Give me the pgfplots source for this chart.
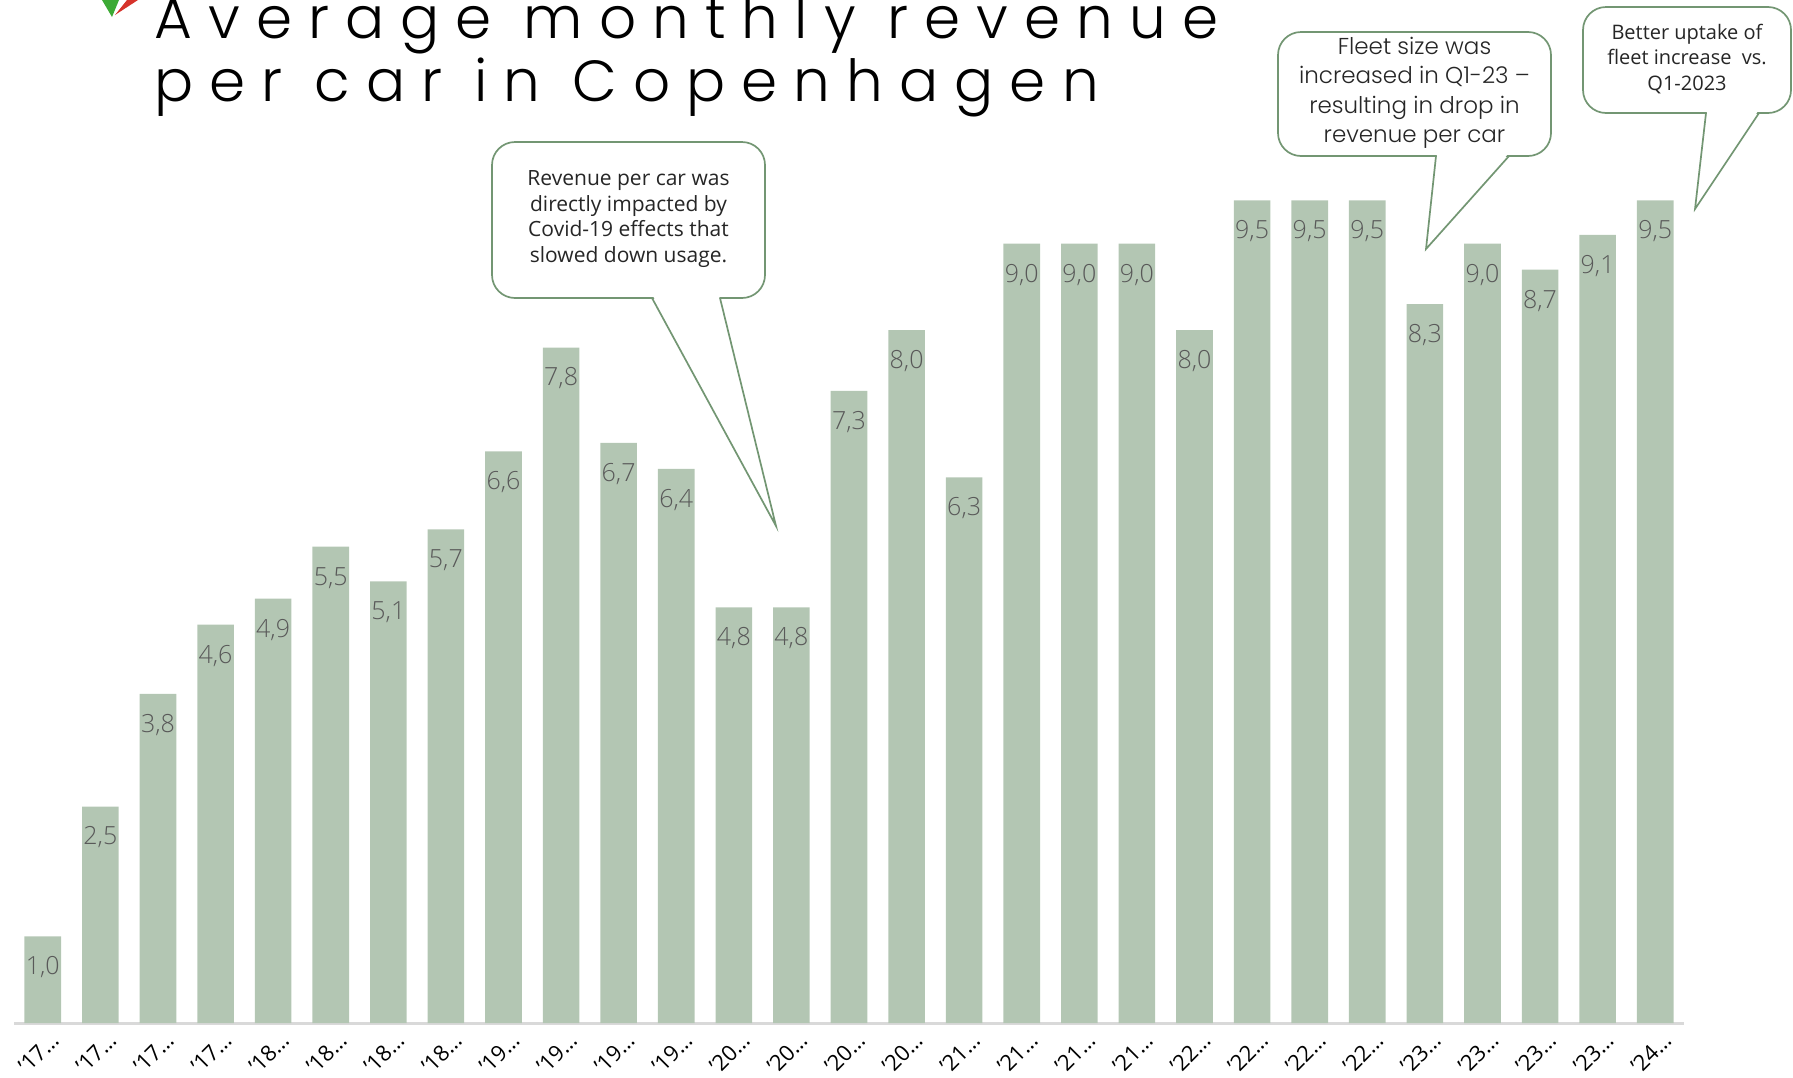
\documentclass[border=0pt]{standalone}
\usepackage{pgfplots}
\pgfplotsset{compat=1.18}
\usepackage{fontspec}
\setmainfont{Open Sans}
\IfFontExistsTF{Poppins Light}{%
  \newfontfamily\titlefont[LetterSpace=27.7]{Poppins Light}%
  \newfontfamily\calloutfontB{Poppins Light}%
}{%
  \newfontfamily\titlefont[LetterSpace=27]{Poppins}%
  \newfontfamily\calloutfontB{Poppins}%
}
\IfFontExistsTF{Open Sans Light}{%
  \newfontfamily\labfont{Open Sans Light}%
}{%
  \newfontfamily\labfont{Open Sans}%
}
\definecolor{barcol}{HTML}{B3C6B3}
\definecolor{axiscol}{HTML}{D9D9D9}
\definecolor{labcol}{HTML}{595959}
\definecolor{callcol}{HTML}{739673}
\definecolor{txtcol}{HTML}{262626}
\definecolor{logogreen}{HTML}{3DAA35}
\definecolor{logored}{HTML}{D6332B}
\begin{document}
\begin{tikzpicture}
\useasboundingbox (0,0) rectangle (896.5pt,-538.5pt);
\begin{axis}[
  at={(7pt,-511.5pt)}, anchor=south west,
  scale only axis, width=835pt, height=433pt,
  xmin=-0.5, xmax=28.5, ymin=0, ymax=10,
  axis x line*=bottom, axis y line=none,
  x axis line style={draw=axiscol, line width=1.5pt},
  ytick=\empty,
  xtick={0,...,28},
  xticklabels={’17…,’17…,’17…,’17…,’18…,’18…,’18…,’18…,’19…,’19…,’19…,’19…,’20…,’20…,’20…,’20…,’21…,’21…,’21…,’21…,’22…,’22…,’22…,’22…,’23…,’23…,’23…,’23…,’24…},
  major tick length=0pt,
  x tick label style={font=\fontsize{11}{13}\selectfont, text=black, rotate=45, anchor=east, xshift=3pt, yshift=-9pt},
  ybar, bar width=18.3pt, bar shift=0pt,
  nodes near coords,
  /pgf/number format/.cd, use comma, fixed, fixed zerofill, precision=1, assume math mode=true,
  /pgfplots/.cd,
  every node near coord/.append style={font=\labfont\fontsize{12.5}{14}\selectfont, text=labcol, anchor=center, yshift=-15.5pt},
  clip=false,
]
\addplot[fill=barcol, draw=none] coordinates {
(0,1.0) (1,2.5) (2,3.8) (3,4.6) (4,4.9) (5,5.5) (6,5.1) (7,5.7)
(8,6.6) (9,7.8) (10,6.7) (11,6.4) (12,4.8) (13,4.8) (14,7.3) (15,8.0)
(16,6.3) (17,9.0) (18,9.0) (19,9.0) (20,8.0) (21,9.5) (22,9.5) (23,9.5)
(24,8.3) (25,9.0) (26,8.7) (27,9.1) (28,9.5)};
\end{axis}
\begin{scope}[x=0.5pt, y=-0.5pt]
% logo
\fill[logogreen] (102,0) -- (119,0) -- (112,17) -- cycle;
\fill[logored] (127,0) -- (138,0) -- (115,15) -- cycle;
% title
\node[anchor=base west, inner sep=0pt, font=\titlefont\fontsize{29}{31}\selectfont] at (154,38) {Average monthly revenue};
\node[anchor=base west, inner sep=0pt, font=\titlefont\fontsize{29}{31}\selectfont] at (154,101) {per car in Copenhagen};
% callout covid
\filldraw[fill=white, draw=callcol, line width=0.85pt, rounded corners=11.5pt] (492,142) rectangle (765,298);
\fill[white] (653,296) -- (776,526) -- (719,296) -- cycle;
\draw[callcol, line width=0.85pt] (652,298) -- (776,526) -- (720,298);
\node[align=center, text=txtcol, font=\fontsize{10.5}{12.75}\selectfont] at (628.5,219) {Revenue per car was\\directly impacted by\\Covid-19 effects that\\slowed down usage.};
% callout fleet
\filldraw[fill=white, draw=callcol, line width=0.85pt, rounded corners=11.5pt] (1278,32) rectangle (1551,156);
\fill[white] (1437,154) -- (1426,249) -- (1508,154) -- cycle;
\draw[callcol, line width=0.85pt] (1436,156) -- (1426,249) -- (1509,156);
\node[align=center, text=txtcol, font=\calloutfontB\fontsize{11.5}{14.7}\selectfont] at (1414.5,93) {Fleet size was\\increased in Q1-23 –\\resulting in drop in\\revenue per car};
% callout better
\filldraw[fill=white, draw=callcol, line width=0.85pt, rounded corners=11.5pt] (1583,7) rectangle (1791,113);
\fill[white] (1707,111) -- (1695,209) -- (1758,111) -- cycle;
\draw[callcol, line width=0.85pt] (1706,113) -- (1695,209) -- (1759,113);
\node[align=center, text=txtcol, font=\fontsize{10}{12.9}\selectfont] at (1687,59) {Better uptake of\\fleet increase~ vs.\\Q1-2023};
\end{scope}
\end{tikzpicture}
\end{document}
